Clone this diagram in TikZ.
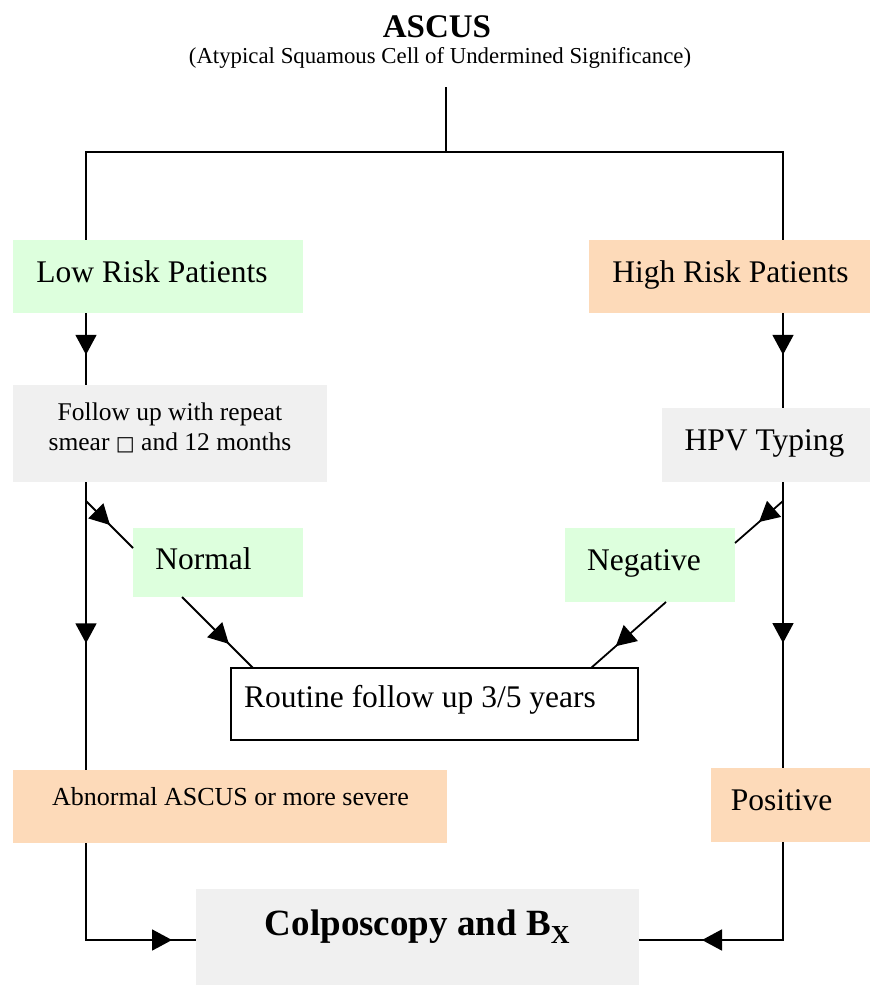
\documentclass[tikz,border=0pt]{standalone}
\usepackage{fontspec}
\setmainfont{Liberation Serif}
\newfontfamily\dejavu{DejaVu Sans}
\usetikzlibrary{arrows.meta,decorations.markings,calc}
\definecolor{gfill}{RGB}{221,255,221}
\definecolor{pfill}{RGB}{253,218,185}
\definecolor{sfill}{RGB}{240,240,240}
% #1 = twice the horizontal offset of the text centre, #2 = raise of the baseline above the box centre
\newcommand{\tx}[3]{\raisebox{#2}{\makebox[0pt]{\hspace*{#1}#3}}}
\tikzset{
  bx/.style={rectangle, inner sep=0pt, outer sep=0pt, text height=0pt, text depth=0pt},
  big/.style={font=\fontsize{31.5pt}{38pt}\selectfont},
  mid/.style={font=\fontsize{26pt}{31pt}\selectfont},
  arrowat/.style={postaction={decorate},decoration={markings,mark=at position #1 with {\arrow{Triangle[length=20pt,width=21pt]}}}}
}
\begin{document}
\begin{tikzpicture}[x=1pt,y=-1pt,line width=1.8pt]
\useasboundingbox (0,0) rectangle (870,985);
\fill[white] (0,0) rectangle (870,985);

% title
\node[font=\bfseries\fontsize{33pt}{40pt}\selectfont, anchor=base, inner sep=0pt] (title) at (437,37) {ASCUS};
\node[font=\fontsize{22.8pt}{27pt}\selectfont, anchor=base, inner sep=0pt] (sub) at (440,63) {(Atypical Squamous Cell of Undermined Significance)};

% boxes
\node[bx, big, fill=gfill, minimum width=290pt, minimum height=73pt] (low) at (158,276.5) {\tx{-12pt}{-5.5pt}{Low Risk Patients}};
\node[bx, big, fill=pfill, minimum width=281pt, minimum height=73pt] (high) at (729.5,276.5) {\tx{2pt}{-5.5pt}{High Risk Patients}};
\node[bx, font=\fontsize{25.5pt}{30pt}\selectfont, fill=sfill, minimum width=314pt, minimum height=97pt] (follow) at (170,433.5)
  {\raisebox{13.5pt}{\makebox[0pt]{Follow up with repeat}}\raisebox{-16.5pt}{\makebox[0pt]{smear {\dejavu\fontsize{20pt}{24pt}\selectfont □} and 12 months}}};
\node[bx, big, fill=sfill, minimum width=208pt, minimum height=74pt] (hpv) at (766,445) {\tx{-3pt}{-5pt}{HPV Typing}};
\node[bx, big, fill=gfill, minimum width=170pt, minimum height=69pt] (normal) at (218,562.5) {\tx{-29pt}{-6.5pt}{Normal}};
\node[bx, big, fill=gfill, minimum width=170pt, minimum height=74pt] (neg) at (650,565) {\tx{-12pt}{-5pt}{Negative}};
\node[bx, big, draw=black, line width=1.6pt, fill=white, minimum width=407pt, minimum height=72pt] (routine) at (434.5,704) {\tx{-29pt}{-3pt}{Routine follow up 3/5 years}};
\node[bx, mid, fill=pfill, minimum width=434pt, minimum height=73pt] (abn) at (230,806.5) {\tx{1pt}{1.5pt}{Abnormal ASCUS or more severe}};
\node[bx, big, fill=pfill, minimum width=159pt, minimum height=74pt] (pos) at (790.5,805) {\tx{-18pt}{-5pt}{Positive}};
\node[bx, font=\bfseries\fontsize{37pt}{44pt}\selectfont, fill=sfill, minimum width=443pt, minimum height=96pt] (colpo) at (417.5,937) {\tx{0pt}{2pt}{Colposcopy and B\textsubscript{X}}};

% connector coordinates
\coordinate (stem) at (446,87);
\coordinate (split) at (446,152);
\coordinate (lx) at (86,152);
\coordinate (rx) at (783,152);

% connectors
\draw (stem) -- (split);
\draw (split) -- (lx) -- (low.north -| lx);
\draw (split) -- (rx) -- (high.north -| rx);
\draw[arrowat=0.58] (low.south -| lx) -- (follow.north -| lx);
\draw[arrowat=0.44] (high.south -| rx) -- (hpv.north -| rx);
\draw[arrowat=0.56] (follow.south -| lx) -- (abn.north -| lx);
\draw[arrowat=0.563] (hpv.south -| rx) -- (pos.north -| rx);
\draw[arrowat=0.51] ($(follow.south -| lx)+(0,19)$) -- ($(normal.west)+(0,-14.5)$);
\draw[arrowat=0.66] ($(normal.south)+(-36,0)$) -- ($(routine.north)+(-181.5,0)$);
\draw[arrowat=0.5] ($(hpv.south -| rx)+(0,19)$) -- ($(neg.east)+(0,-22)$);
\draw[arrowat=0.67] ($(neg.south)+(16,0)$) -- ($(routine.north)+(156.5,0)$);
\draw[arrowat=-24pt] (abn.south -| lx) |- ($(colpo.west)+(0,3)$);
\draw[arrowat=-63pt] (pos.south -| rx) |- ($(colpo.east)+(0,3)$);
\end{tikzpicture}
\end{document}
